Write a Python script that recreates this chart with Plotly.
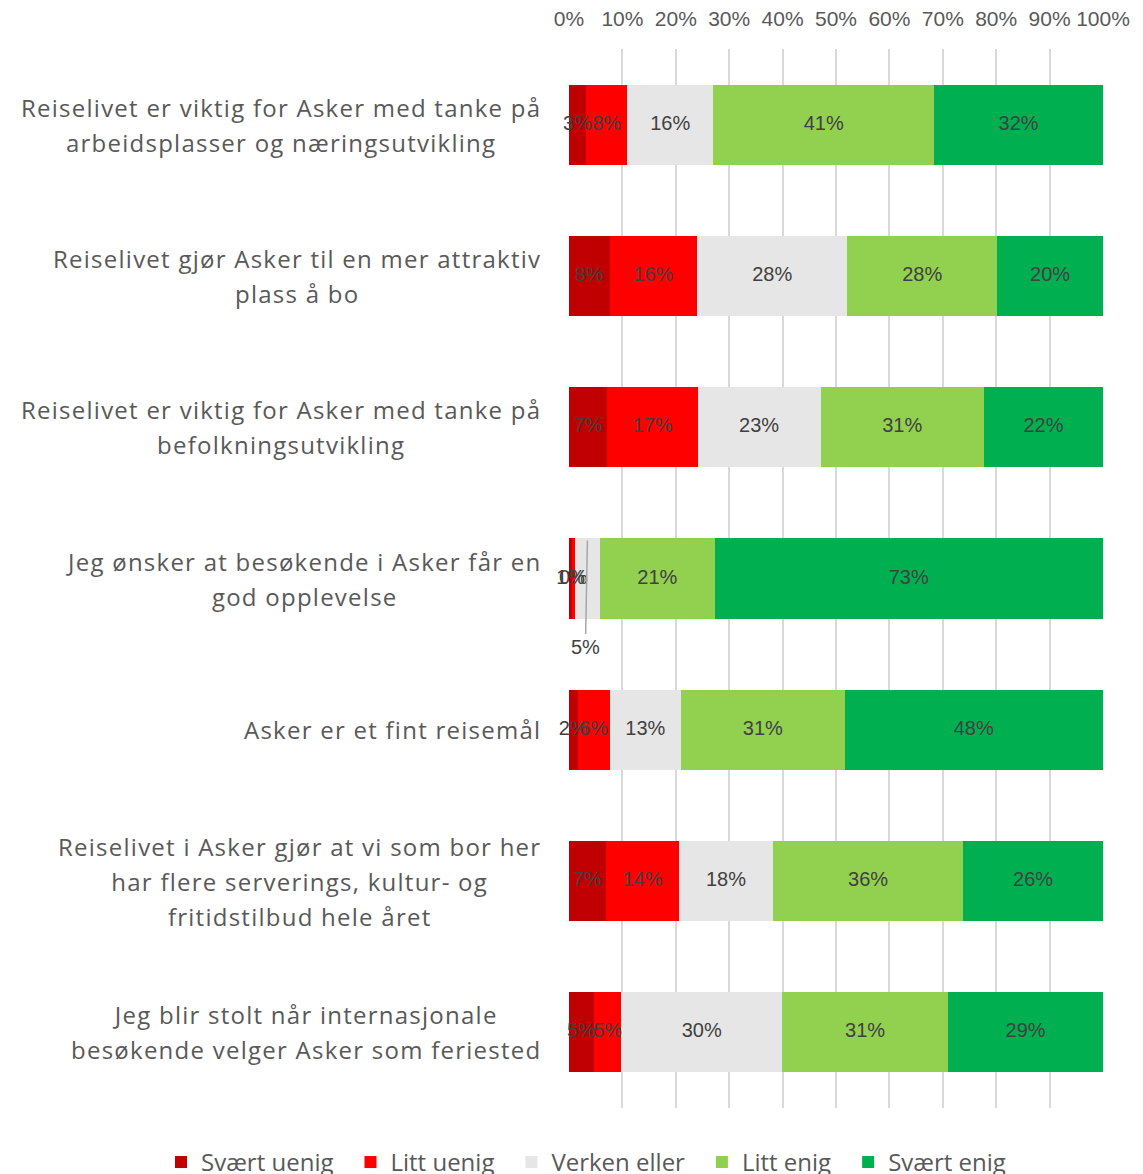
import plotly.graph_objects as go

categories = [
    "Reiselivet er viktig for Asker med tanke på<br>arbeidsplasser og næringsutvikling",
    "Reiselivet gjør Asker til en mer attraktiv<br>plass å bo",
    "Reiselivet er viktig for Asker med tanke på<br>befolkningsutvikling",
    "Jeg ønsker at besøkende i Asker får en<br>god opplevelse",
    "Asker er et fint reisemål",
    "Reiselivet i Asker gjør at vi som bor her<br>har flere serverings, kultur- og<br>fritidstilbud hele året",
    "Jeg blir stolt når internasjonale<br>besøkende velger Asker som feriested",
]
series_names = ["Svært uenig", "Litt uenig", "Verken eller", "Litt enig", "Svært enig"]
svaert_uenig = [0.032, 0.076, 0.072, 0.006, 0.016, 0.069, 0.047]
litt_uenig   = [0.077, 0.164, 0.169, 0.0045, 0.060, 0.137, 0.051]
verken_eller = [0.161, 0.281, 0.230, 0.048, 0.134, 0.176, 0.301]
litt_enig    = [0.414, 0.281, 0.306, 0.214, 0.306, 0.356, 0.311]
svaert_enig  = [0.316, 0.198, 0.223, 0.7275, 0.484, 0.262, 0.290]
series_values = [svaert_uenig, litt_uenig, verken_eller, litt_enig, svaert_enig]
colors = ["#C00000", "#FF0000", "#E7E6E6", "#92D050", "#00B050"]
x_ticks = [0, 0.1, 0.2, 0.3, 0.4, 0.5, 0.6, 0.7, 0.8, 0.9, 1.0]

# label placed outside with a leader line (series index, category index)
callout = (2, 3)

label_font = dict(color="#404040", size=20, family="Liberation Sans, Arial")

fig = go.Figure()
for name, vals, col in zip(series_names, series_values, colors):
    fig.add_trace(go.Bar(
        name=name + "\u2002",
        y=categories, x=vals, orientation="h",
        marker=dict(color=col, line=dict(width=0)),
        width=0.53, hoverinfo="skip",
    ))

# data labels on top of all bars (scatter layer is above the bar layer)
for si, vals in enumerate(series_values):
    xs, ys, ts = [], [], []
    for ci, v in enumerate(vals):
        if (si, ci) == callout:
            continue
        start = sum(series_values[k][ci] for k in range(si))
        xs.append(start + v / 2)
        ys.append(categories[ci])
        ts.append(f"{round(v*100):.0f}%")
    fig.add_trace(go.Scatter(
        x=xs, y=ys, text=ts, mode="text", textposition="middle center",
        textfont=label_font, showlegend=False, hoverinfo="skip", cliponaxis=False,
    ))

# callout label with leader line
si, ci = callout
xmid = sum(series_values[k][ci] for k in range(si)) + series_values[si][ci] / 2
fig.add_annotation(
    x=xmid, y=categories[ci], xref="x", yref="y",
    text=f"{round(series_values[si][ci]*100):.0f}%",
    showarrow=True, arrowhead=0, arrowwidth=1.5, arrowcolor="#A6A6A6",
    ax=-2, ay=106, yshift=38, standoff=0, startstandoff=0,
    font=label_font,
)

for cat in categories:
    lines = cat.split("<br>")
    txt = "<br>".join(
        f'<span style="font-size:24px;letter-spacing:1.25px">{ln}</span>' for ln in lines
    )
    fig.add_annotation(
        x=0, y=cat, xref="paper", yref="y", xanchor="right", yanchor="middle",
        xshift=-26, text=txt, showarrow=False, align="center",
        font=dict(color="#595959", size=27, family="Open Sans"),
    )

fig.update_layout(
    barmode="stack",
    width=1135, height=1200,
    margin=dict(l=561, r=40, t=41, b=100.4),
    plot_bgcolor="white", paper_bgcolor="white",
    font=dict(family="Open Sans", color="#595959"),
    legend=dict(
        orientation="h", xref="paper", x=-0.764, xanchor="left",
        yref="paper", y=-0.0514, yanchor="middle",
        font=dict(size=24, color="#595959", family="Open Sans"),
        traceorder="normal", itemwidth=30,
    ),
    xaxis=dict(
        side="top", range=[0, 1], tickvals=x_ticks, tickformat=".0%",
        showgrid=True, gridcolor="#D9D9D9", gridwidth=2, automargin=False,
        zeroline=False, showline=False, ticks="", ticklabelstandoff=18,
        tickfont=dict(size=21, color="#595959", family="Liberation Sans, Arial"),
        fixedrange=True,
    ),
    yaxis=dict(
        autorange="reversed", showticklabels=False, showgrid=False,
        zeroline=False, showline=False, ticks="", automargin=False,
    ),
)

fig.write_html("out.html")
